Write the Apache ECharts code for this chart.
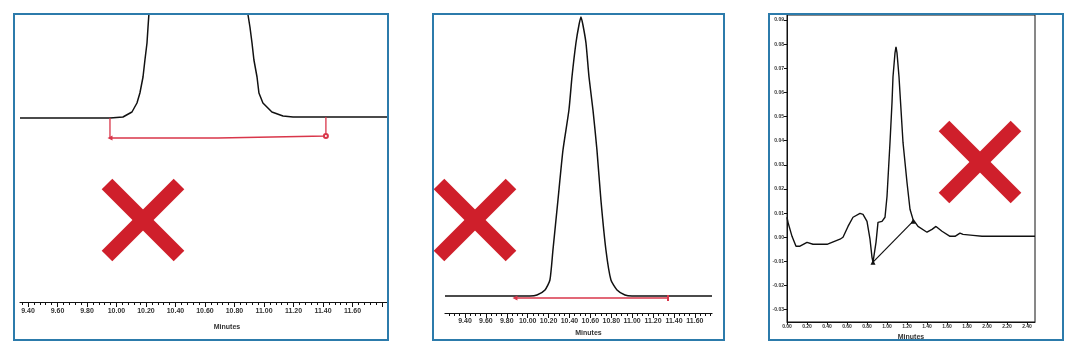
<!DOCTYPE html>
<html><head><meta charset="utf-8">
<script src="https://cdn.jsdelivr.net/npm/echarts@6/dist/echarts.min.js"></script>
<style>html,body{margin:0;padding:0;background:#fff}#c{width:1080px;height:356px}</style>
</head><body><div id="c"></div>
<script>
// ---------- Panel 1: peak running off the top, integration bracket below ----------
const p1Minutes = [9.346, 9.956, 10.044, 10.105, 10.139, 10.159, 10.180, 10.193, 10.207, 10.214, 10.220, 10.24, 10.35, 10.55, 10.75, 10.88, 10.892, 10.905, 10.919, 10.932, 10.953, 10.966, 10.993, 11.054, 11.129, 11.197, 11.841];
const p1Signal  = [0, 0, 1, 6, 15, 25, 41, 58, 75, 91, 104, 260, 700, 900, 700, 260, 103, 91, 75, 58, 41, 25, 15, 6, 2, 1, 1];
const p1BracketMinutes = [9.956, 9.956, 10.688, 10.688, 11.420, 11.420];
const p1BracketSignal  = [0, -20, -20, -18, -18, 1];
const p1TickLabels = [9.40, 9.60, 9.80, 10.00, 10.20, 10.40, 10.60, 10.80, 11.00, 11.20, 11.40, 11.60];
const p1MajorTicks = [9.40, 9.60, 9.80, 10.00, 10.20, 10.40, 10.60, 10.80, 11.00, 11.20, 11.40, 11.60, 11.80];

// ---------- Panel 2: full gaussian peak, integration line on baseline ----------
const p2Minutes = [9.209, 9.878, 10.022, 10.089, 10.166, 10.213, 10.242, 10.290, 10.338, 10.395, 10.424, 10.462, 10.491, 10.510, 10.529, 10.558, 10.587, 10.625, 10.663, 10.701, 10.749, 10.797, 10.855, 10.931, 10.998, 11.764];
const p2Signal  = [0, 0, 0, 1, 6, 16, 46, 96, 146, 186, 219, 253, 271, 279, 271, 253, 219, 186, 146, 96, 46, 16, 6, 1, 0, 0];
const p2LineMinutes = [9.878, 11.343];
const p2LineSignal  = [-2, -2];
const p2TickLabels = [9.40, 9.60, 9.80, 10.00, 10.20, 10.40, 10.60, 10.80, 11.00, 11.20, 11.40, 11.60];

// ---------- Panel 3: noisy baseline with a peak and a skewed baseline ----------
const p3Minutes = [0.00, 0.01, 0.05, 0.09, 0.13, 0.20, 0.26, 0.40, 0.53, 0.56, 0.61, 0.66, 0.73, 0.76, 0.80, 0.83, 0.85, 0.86, 0.89, 0.91, 0.95, 0.98, 1.00, 1.03, 1.05, 1.06, 1.08, 1.09, 1.10, 1.12, 1.14, 1.16, 1.20, 1.23, 1.26, 1.31, 1.40, 1.45, 1.49, 1.55, 1.63, 1.68, 1.73, 1.76, 1.86, 1.95, 2.48];
const p3Signal  = [0.0083, 0.0062, 0.0004, -0.0037, -0.0037, -0.0021, -0.0029, -0.0029, -0.0008, 0.0000, 0.0045, 0.0083, 0.0099, 0.0095, 0.0066, -0.0008, -0.0083, -0.0103, -0.0021, 0.0062, 0.0066, 0.0083, 0.0169, 0.0393, 0.0558, 0.0665, 0.0764, 0.0789, 0.0764, 0.0665, 0.0529, 0.0393, 0.0227, 0.0116, 0.0074, 0.0045, 0.0021, 0.0033, 0.0045, 0.0025, 0.0004, 0.0004, 0.0017, 0.0012, 0.0008, 0.0004, 0.0004];
const p3BaseMinutes = [0.86, 1.26];
const p3BaseSignal  = [-0.0103, 0.0066];
const p3XTickLabels = [0.00, 0.20, 0.40, 0.60, 0.80, 1.00, 1.20, 1.40, 1.60, 1.80, 2.00, 2.20, 2.40];
const p3YTickLabels = [-0.03, -0.02, -0.01, 0.00, 0.01, 0.02, 0.03, 0.04, 0.05, 0.06, 0.07, 0.08, 0.09];

const axisName = 'Minutes';
const p2ApexLabel = '10.51';
const p3ApexLabel = '1.09';

// ---------- build ----------
const zip = (a, b) => a.map((v, i) => [v, b[i]]);
const FONT = '"Liberation Sans", Arial, sans-serif';
const BLACK = '#111';
const RED = '#d9364a';
const rulerTicks = (from, to, step) => {
  const out = []; const n = Math.round((to - from) / step);
  for (let i = 0; i <= n; i++) out.push(+(from + i * step).toFixed(3));
  return out;
};
const lbl = { fontSize: 7, color: '#333', fontFamily: FONT, fontWeight: 'bold' };

function rulerAxes(grid, min, max, labels, majorVals, minorVals, margin, nameGap, namePad) {
  return [
    { type: 'value', gridIndex: grid, min, max, position: 'bottom',
      axisLine: { show: true, onZero: false, lineStyle: { color: BLACK, width: 1.2 } },
      axisTick: { show: true, customValues: majorVals, length: 5, lineStyle: { color: BLACK, width: 1 } },
      axisLabel: { show: true, customValues: labels, margin, formatter: v => v.toFixed(2), ...lbl },
      splitLine: { show: false },
      name: axisName, nameLocation: 'middle', nameGap,
      nameTextStyle: { fontSize: 7, color: '#333', fontFamily: FONT, fontWeight: 'bold', padding: namePad } },
    { type: 'value', gridIndex: grid, min, max, position: 'bottom',
      axisLine: { show: false, onZero: false },
      axisTick: { show: true, customValues: minorVals, length: 3, lineStyle: { color: BLACK, width: 1 } },
      axisLabel: { show: false }, splitLine: { show: false } }
  ];
}

const p1Curve = zip(p1Minutes, p1Signal);
const p1Bracket = zip(p1BracketMinutes, p1BracketSignal).map((d, i) => {
  if (i === 1) return { value: d, symbol: 'triangle', symbolSize: 5, symbolRotate: 90 };
  if (i === 4) return { value: d, symbol: 'emptyCircle', symbolSize: 4 };
  return { value: d };
});
const p2Curve = zip(p2Minutes, p2Signal).map((d) => {
  if (d[1] === Math.max(...p2Signal)) return { value: d, label: { show: true, formatter: p2ApexLabel, rotate: 90, position: 'bottom', distance: 2, align: 'right', verticalAlign: 'middle', fontSize: 6, color: '#666', fontFamily: FONT } };
  return { value: d };
});
const p2Line = zip(p2LineMinutes, p2LineSignal).map((d, i) => ({ value: d, symbol: i === 0 ? 'triangle' : 'rect', symbolSize: i === 0 ? 5 : [2, 6], symbolRotate: i === 0 ? 90 : 0 }));
const p3Curve = zip(p3Minutes, p3Signal).map((d) => {
  if (d[1] === Math.max(...p3Signal)) return { value: d, label: { show: true, formatter: p3ApexLabel, rotate: 90, position: 'top', distance: 5, align: 'left', verticalAlign: 'middle', fontSize: 6, color: '#333', fontFamily: FONT } };
  return { value: d };
});
const p3Base = zip(p3BaseMinutes, p3BaseSignal).map(d => ({ value: d, symbol: 'triangle', symbolSize: 5 }));

const xAxes = [
  ...rulerAxes(0, 9.346, 11.841, p1TickLabels, p1MajorTicks, rulerTicks(9.36, 11.84, 0.04), 6, 22, [0, 0, 0, 46]),
  ...rulerAxes(1, 9.209, 11.764, p2TickLabels, p2TickLabels, rulerTicks(9.25, 11.75, 0.05), 5, 15, [0, 0, 0, 20]),
  { type: 'value', gridIndex: 2, min: 0, max: 2.48, position: 'bottom',
    axisLine: { show: true, onZero: false, lineStyle: { color: BLACK, width: 1 } },
    axisTick: { show: true, customValues: p3XTickLabels, length: 3, lineStyle: { color: BLACK } },
    axisLabel: { show: true, customValues: p3XTickLabels, margin: 2, formatter: v => v.toFixed(2), ...lbl, fontSize: 5 },
    splitLine: { show: false },
    name: axisName, nameLocation: 'middle', nameGap: 12,
    nameTextStyle: { fontSize: 7, color: '#333', fontFamily: FONT, fontWeight: 'bold' } }
];

const yAxes = [
  { type: 'value', gridIndex: 0, min: -184, max: 104, show: false },
  { type: 'value', gridIndex: 1, min: -17, max: 282, show: false },
  { type: 'value', gridIndex: 2, min: -0.0351, max: 0.0921,
    axisLine: { show: true, onZero: false, lineStyle: { color: BLACK, width: 1 } },
    axisTick: { show: true, customValues: p3YTickLabels, length: 3, lineStyle: { color: BLACK } },
    axisLabel: { show: true, customValues: p3YTickLabels, margin: 3, formatter: v => v.toFixed(2), ...lbl, fontSize: 5 },
    splitLine: { show: false } }
];

const cross = (cx, cy, h) => [
  { type: 'line', shape: { x1: cx - h, y1: cy - h, x2: cx + h, y2: cy + h }, style: { stroke: '#cf1f2b', lineWidth: 15, lineCap: 'butt' }, z: 50 },
  { type: 'line', shape: { x1: cx + h, y1: cy - h, x2: cx - h, y2: cy + h }, style: { stroke: '#cf1f2b', lineWidth: 15, lineCap: 'butt' }, z: 50 }
];
const box = (x, y, w, h) => ({ type: 'rect', shape: { x, y, width: w, height: h }, style: { fill: 'none', stroke: '#2c7bab', lineWidth: 2 }, z: 60 });

const option = {
  animation: false,
  backgroundColor: '#fff',
  grid: [
    { left: 20, top: 14, width: 368, height: 288 },
    { left: 445, top: 14, width: 267, height: 299 },
    { left: 787, top: 15, width: 248, height: 307, show: true, borderColor: BLACK, borderWidth: 1, backgroundColor: 'transparent' }
  ],
  xAxis: xAxes,
  yAxis: yAxes,
  series: [
    { type: 'line', xAxisIndex: 0, yAxisIndex: 0, data: p1Curve, symbol: 'none', clip: true, lineStyle: { color: BLACK, width: 1.5 } },
    { type: 'line', xAxisIndex: 0, yAxisIndex: 0, data: p1Bracket, symbol: 'none', itemStyle: { color: RED }, lineStyle: { color: RED, width: 1.3 } },
    { type: 'line', xAxisIndex: 2, yAxisIndex: 1, data: p2Curve, symbol: 'none', smooth: 0.2, clip: true, lineStyle: { color: BLACK, width: 1.5 } },
    { type: 'line', xAxisIndex: 2, yAxisIndex: 1, data: p2Line, symbol: 'none', itemStyle: { color: RED }, lineStyle: { color: RED, width: 1.3 } },
    { type: 'line', xAxisIndex: 4, yAxisIndex: 2, data: p3Curve, symbol: 'none', clip: true, lineStyle: { color: BLACK, width: 1.4 } },
    { type: 'line', xAxisIndex: 4, yAxisIndex: 2, data: p3Base, symbol: 'none', itemStyle: { color: BLACK }, lineStyle: { color: BLACK, width: 1.2 } }
  ],
  graphic: [
    box(14, 14, 374, 326), box(433, 14, 291, 326), box(769, 14, 294, 326),
    ...cross(143, 220, 36), ...cross(475, 220, 36), ...cross(980, 162, 36)
  ]
};
const chart = echarts.init(document.getElementById('c'), null, { renderer: 'canvas' });
chart.setOption(option);
</script>
</body></html>
